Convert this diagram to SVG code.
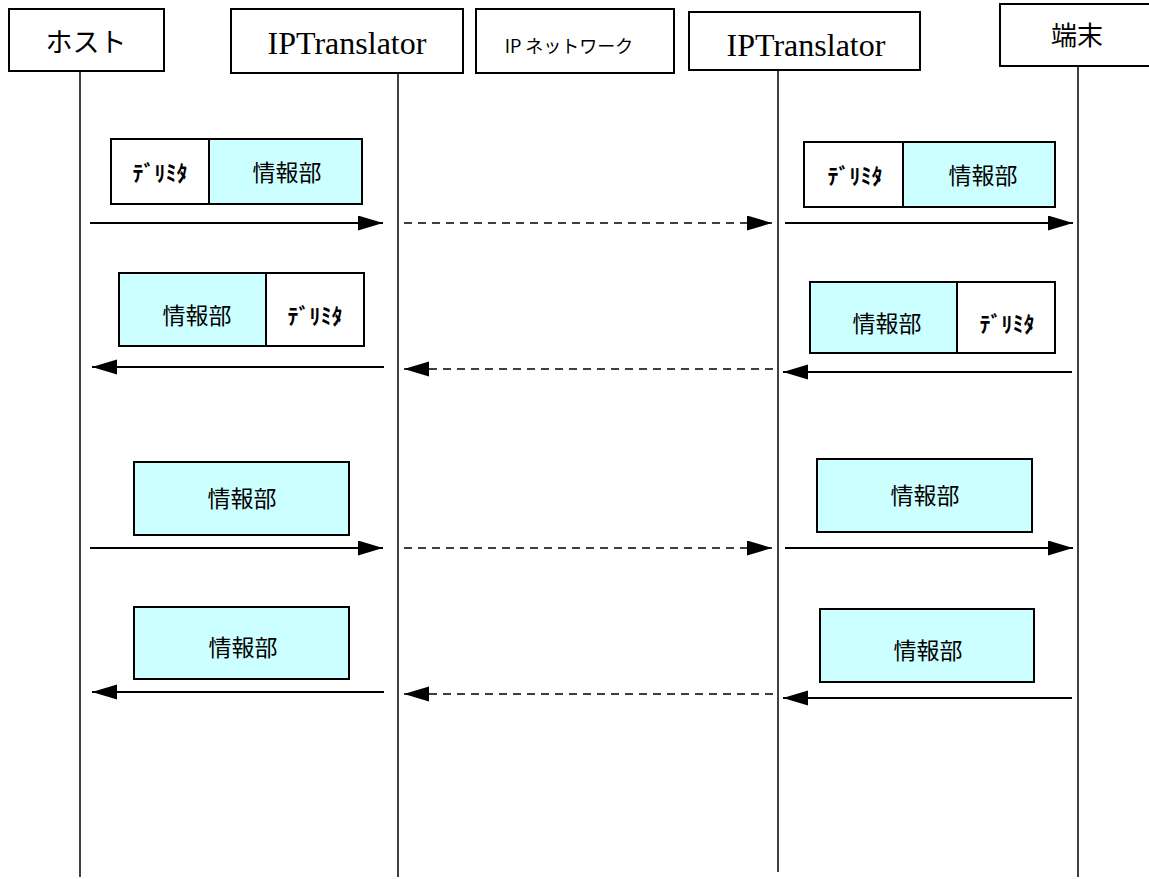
<svg xmlns="http://www.w3.org/2000/svg" width="1149" height="879" viewBox="0 0 1149 879">
<style>
.hdr{fill:#fff;stroke:#000;stroke-width:2}
.life{stroke:#000;stroke-width:1.5;fill:none}
.pk{fill:#fff;stroke:#000;stroke-width:2}
.info{fill:#ccffff;stroke:#000;stroke-width:2}
.msg{stroke:#000;stroke-width:2;fill:none}
.dash{stroke:#000;stroke-width:1.5;stroke-dasharray:8 6;fill:none}
.jp{font-family:"Noto Sans CJK JP","Noto Sans",sans-serif;fill:#000;text-anchor:middle}
.dl{font-weight:bold}
.en{font-family:"Liberation Serif","Times New Roman",serif;fill:#000;text-anchor:middle}
</style>
<defs>
<marker id="ah" markerUnits="userSpaceOnUse" markerWidth="26" markerHeight="16" refX="25" refY="7.5" orient="auto">
<path d="M0,0 L25,7.5 L0,15 z" fill="#000"/>
</marker>
</defs>
<rect width="1149" height="879" fill="#fff"/>

<g id="lifelines">
<line class="life" x1="80" y1="71" x2="80" y2="877"/>
<line class="life" x1="398" y1="73" x2="398" y2="877"/>
<line class="life" x1="778" y1="70" x2="778" y2="872"/>
<line class="life" x1="1078" y1="66" x2="1078" y2="877"/>
</g>

<g id="host">
<rect class="hdr" x="9" y="9" width="155" height="62"/>
<text class="jp" x="86" y="52" font-size="27">ホスト</text>
</g>
<g id="iptranslator1">
<rect class="hdr" x="231" y="9" width="232" height="64"/>
<text class="en" x="347" y="54" font-size="32">IPTranslator</text>
</g>
<g id="ipnetwork">
<rect class="hdr" x="476" y="9" width="198" height="64"/>
<text class="jp" x="569" y="53" font-size="18">IP ネットワーク</text>
</g>
<g id="iptranslator2">
<rect class="hdr" x="689" y="12" width="231" height="58"/>
<text class="en" x="806" y="56" font-size="32">IPTranslator</text>
</g>
<g id="terminal">
<rect class="hdr" x="1000" y="4" width="170" height="62"/>
<text class="jp" x="1077" y="45" font-size="26">端末</text>
</g>

<g id="packet1L">
<rect class="pk" x="111" y="139" width="98" height="65"/>
<rect class="info" x="209" y="139" width="153" height="65"/>
<text class="jp dl" x="160" y="181" font-size="22">ﾃﾞﾘﾐﾀ</text>
<text class="jp" x="287" y="181" font-size="23">情報部</text>
</g>
<g id="packet1R">
<rect class="pk" x="804" y="142" width="99" height="65"/>
<rect class="info" x="903" y="142" width="152" height="65"/>
<text class="jp dl" x="855" y="184" font-size="22">ﾃﾞﾘﾐﾀ</text>
<text class="jp" x="983" y="184" font-size="23">情報部</text>
</g>
<g id="packet2L">
<rect class="info" x="119" y="273" width="147" height="73"/>
<rect class="pk" x="266" y="273" width="98" height="73"/>
<text class="jp" x="197" y="324" font-size="23">情報部</text>
<text class="jp dl" x="315" y="324" font-size="22">ﾃﾞﾘﾐﾀ</text>
</g>
<g id="packet2R">
<rect class="info" x="810" y="282" width="147" height="71"/>
<rect class="pk" x="957" y="282" width="98" height="71"/>
<text class="jp" x="887" y="332" font-size="23">情報部</text>
<text class="jp dl" x="1007" y="332" font-size="22">ﾃﾞﾘﾐﾀ</text>
</g>
<g id="packet3L">
<rect class="info" x="134" y="462" width="215" height="73"/>
<text class="jp" x="242" y="507" font-size="23">情報部</text>
</g>
<g id="packet3R">
<rect class="info" x="817" y="459" width="215" height="73"/>
<text class="jp" x="925" y="504" font-size="23">情報部</text>
</g>
<g id="packet4L">
<rect class="info" x="134" y="607" width="215" height="72"/>
<text class="jp" x="243" y="656" font-size="23">情報部</text>
</g>
<g id="packet4R">
<rect class="info" x="820" y="609" width="214" height="73"/>
<text class="jp" x="928" y="659" font-size="23">情報部</text>
</g>

<g id="connectors">
<line class="msg" x1="90" y1="223" x2="383" y2="223" marker-end="url(#ah)"/>
<line class="dash" x1="404" y1="223" x2="772" y2="223" marker-end="url(#ah)"/>
<line class="msg" x1="785" y1="223" x2="1073" y2="223" marker-end="url(#ah)"/>

<line class="msg" x1="384" y1="367" x2="92" y2="367" marker-end="url(#ah)"/>
<line class="dash" x1="773" y1="369" x2="404" y2="369" marker-end="url(#ah)"/>
<line class="msg" x1="1072" y1="372" x2="783" y2="372" marker-end="url(#ah)"/>

<line class="msg" x1="90" y1="548" x2="383" y2="548" marker-end="url(#ah)"/>
<line class="dash" x1="404" y1="548" x2="772" y2="548" marker-end="url(#ah)"/>
<line class="msg" x1="785" y1="548" x2="1073" y2="548" marker-end="url(#ah)"/>

<line class="msg" x1="384" y1="692" x2="92" y2="692" marker-end="url(#ah)"/>
<line class="dash" x1="773" y1="694" x2="404" y2="694" marker-end="url(#ah)"/>
<line class="msg" x1="1072" y1="698" x2="783" y2="698" marker-end="url(#ah)"/>
</g>
</svg>
